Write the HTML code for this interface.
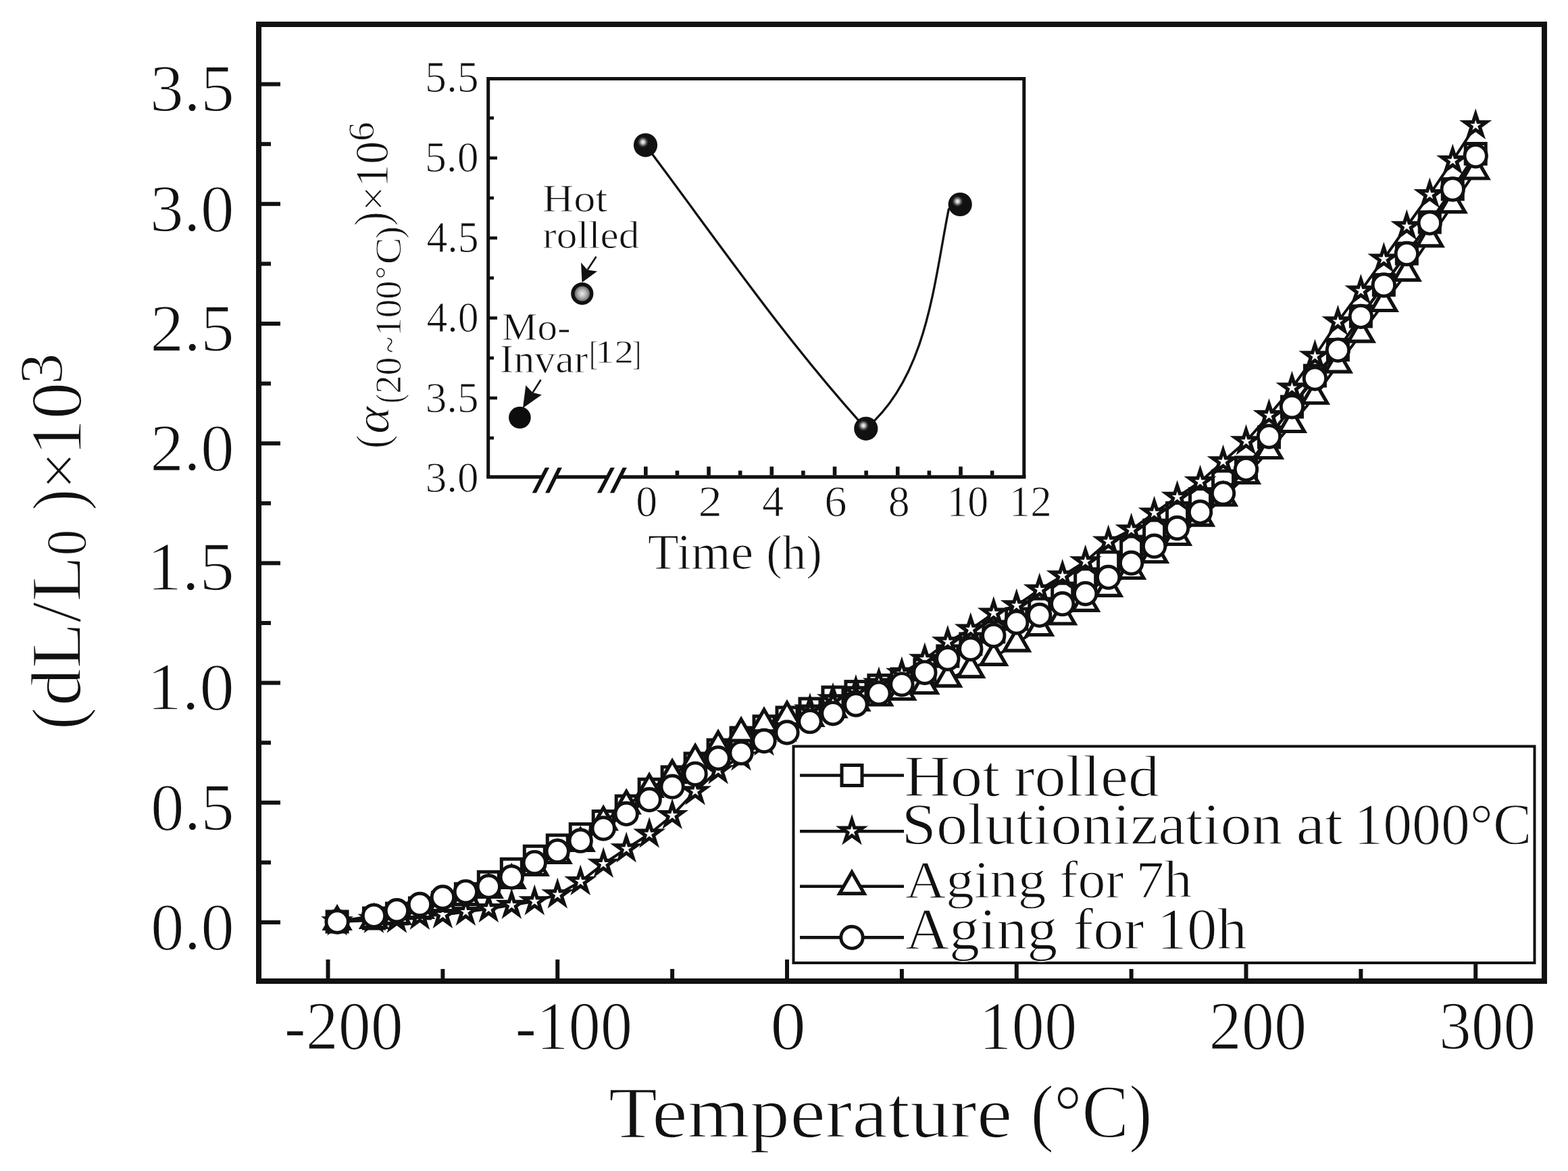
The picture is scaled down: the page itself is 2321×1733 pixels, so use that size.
<!DOCTYPE html>
<html><head><meta charset="utf-8"><title>Thermal expansion</title>
<style>html,body{margin:0;padding:0;background:#fff;overflow:hidden}svg{display:block}</style>
</head><body>
<svg xmlns="http://www.w3.org/2000/svg" width="2321" height="1733" viewBox="0 0 2321 1733" font-family='"Liberation Serif", "DejaVu Serif", serif' fill="#111">
<rect x="0" y="0" width="2321" height="1733" fill="#fff"/>
<polyline points="499.09,1364 553.45,1359 587.42,1352 621.4,1344 655.38,1336 689.35,1323 723.33,1305.3 757.3,1286.3 791.27,1267.3 825.25,1251 859.23,1234.5 893.2,1215.5 927.17,1193 961.15,1168.2 995.12,1150 1029.1,1130 1063.08,1110 1097.05,1092 1131.03,1075 1165,1062 1198.97,1049 1232.95,1032 1266.92,1023.6 1300.9,1014.3 1334.88,1005 1368.85,991 1402.83,971 1436.8,953 1470.78,935 1504.75,916 1538.72,901 1572.7,878.2 1606.67,857 1640.65,832 1674.62,809 1708.6,785 1742.58,759.4 1776.55,738.5 1810.53,712 1844.5,692 1878.47,647 1912.45,602 1946.42,556 1980.4,517.6 2014.38,468 2048.35,421.6 2082.32,375.2 2116.3,328.8 2150.28,279.8 2184.25,227.5" fill="none" stroke="#111" stroke-width="4.0" stroke-linejoin="round"/>
<g fill="#fff" stroke="#111" stroke-width="5.0" stroke-linejoin="miter">
<rect x="484.09" y="1349" width="30" height="30"/>
<rect x="538.45" y="1344" width="30" height="30"/>
<rect x="572.42" y="1337" width="30" height="30"/>
<rect x="606.4" y="1329" width="30" height="30"/>
<rect x="640.38" y="1321" width="30" height="30"/>
<rect x="674.35" y="1308" width="30" height="30"/>
<rect x="708.33" y="1290.3" width="30" height="30"/>
<rect x="742.3" y="1271.3" width="30" height="30"/>
<rect x="776.27" y="1252.3" width="30" height="30"/>
<rect x="810.25" y="1236" width="30" height="30"/>
<rect x="844.23" y="1219.5" width="30" height="30"/>
<rect x="878.2" y="1200.5" width="30" height="30"/>
<rect x="912.17" y="1178" width="30" height="30"/>
<rect x="946.15" y="1153.2" width="30" height="30"/>
<rect x="980.12" y="1135" width="30" height="30"/>
<rect x="1014.1" y="1115" width="30" height="30"/>
<rect x="1048.08" y="1095" width="30" height="30"/>
<rect x="1082.05" y="1077" width="30" height="30"/>
<rect x="1116.03" y="1060" width="30" height="30"/>
<rect x="1150" y="1047" width="30" height="30"/>
<rect x="1183.97" y="1034" width="30" height="30"/>
<rect x="1217.95" y="1017" width="30" height="30"/>
<rect x="1251.92" y="1008.6" width="30" height="30"/>
<rect x="1285.9" y="999.3" width="30" height="30"/>
<rect x="1319.88" y="990" width="30" height="30"/>
<rect x="1353.85" y="976" width="30" height="30"/>
<rect x="1387.83" y="956" width="30" height="30"/>
<rect x="1421.8" y="938" width="30" height="30"/>
<rect x="1455.78" y="920" width="30" height="30"/>
<rect x="1489.75" y="901" width="30" height="30"/>
<rect x="1523.72" y="886" width="30" height="30"/>
<rect x="1557.7" y="863.2" width="30" height="30"/>
<rect x="1591.67" y="842" width="30" height="30"/>
<rect x="1625.65" y="817" width="30" height="30"/>
<rect x="1659.62" y="794" width="30" height="30"/>
<rect x="1693.6" y="770" width="30" height="30"/>
<rect x="1727.58" y="744.4" width="30" height="30"/>
<rect x="1761.55" y="723.5" width="30" height="30"/>
<rect x="1795.53" y="697" width="30" height="30"/>
<rect x="1829.5" y="677" width="30" height="30"/>
<rect x="1863.47" y="632" width="30" height="30"/>
<rect x="1897.45" y="587" width="30" height="30"/>
<rect x="1931.42" y="541" width="30" height="30"/>
<rect x="1965.4" y="502.6" width="30" height="30"/>
<rect x="1999.38" y="453" width="30" height="30"/>
<rect x="2033.35" y="406.6" width="30" height="30"/>
<rect x="2067.32" y="360.2" width="30" height="30"/>
<rect x="2101.3" y="313.8" width="30" height="30"/>
<rect x="2135.28" y="264.8" width="30" height="30"/>
<rect x="2169.25" y="212.5" width="30" height="30"/>
</g>
<polyline points="499.09,1364 553.45,1360.5 587.42,1360.3 621.4,1355.5 655.38,1353.7 689.35,1349.6 723.33,1344.9 757.3,1339.5 791.27,1334 825.25,1324 859.23,1304.7 893.2,1278.6 927.17,1256 961.15,1234.3 995.12,1206.7 1029.1,1171 1063.08,1140 1097.05,1120 1131.03,1098 1165,1078 1198.97,1050.3 1232.95,1035 1266.92,1023 1300.9,1011.4 1334.88,996.5 1368.85,975.6 1402.83,950 1436.8,931.3 1470.78,907.4 1504.75,896 1538.72,872.6 1572.7,852.1 1606.67,831 1640.65,801.4 1674.62,784 1708.6,759 1742.58,735.6 1776.55,712.9 1810.53,683 1844.5,653 1878.47,614.8 1912.45,574 1946.42,527 1980.4,476.1 2014.38,430.4 2048.35,383.2 2082.32,335 2116.3,287.8 2150.28,237.9 2184.25,185.8" fill="none" stroke="#111" stroke-width="4.0" stroke-linejoin="round"/>
<g fill="#fff" stroke="#111" stroke-width="5.0" stroke-linejoin="miter">
<path d="M499.09 1347.2L502.86 1358.81L515.07 1358.81L505.19 1365.98L508.96 1377.59L499.09 1370.42L489.22 1377.59L492.99 1365.98L483.11 1358.81L495.32 1358.81Z" stroke-width="5.2"/>
<path d="M553.45 1343.7L557.22 1355.31L569.43 1355.31L559.55 1362.48L563.32 1374.09L553.45 1366.92L543.58 1374.09L547.35 1362.48L537.47 1355.31L549.68 1355.31Z" stroke-width="5.2"/>
<path d="M587.42 1343.5L591.2 1355.11L603.4 1355.11L593.53 1362.28L597.3 1373.89L587.42 1366.72L577.55 1373.89L581.32 1362.28L571.45 1355.11L583.65 1355.11Z" stroke-width="5.2"/>
<path d="M621.4 1338.7L625.17 1350.31L637.38 1350.31L627.5 1357.48L631.27 1369.09L621.4 1361.92L611.53 1369.09L615.3 1357.48L605.42 1350.31L617.63 1350.31Z" stroke-width="5.2"/>
<path d="M655.38 1336.9L659.15 1348.51L671.35 1348.51L661.48 1355.68L665.25 1367.29L655.38 1360.12L645.5 1367.29L649.27 1355.68L639.4 1348.51L651.6 1348.51Z" stroke-width="5.2"/>
<path d="M689.35 1332.8L693.12 1344.41L705.33 1344.41L695.45 1351.58L699.22 1363.19L689.35 1356.02L679.48 1363.19L683.25 1351.58L673.37 1344.41L685.58 1344.41Z" stroke-width="5.2"/>
<path d="M723.33 1328.1L727.1 1339.71L739.3 1339.71L729.43 1346.88L733.2 1358.49L723.33 1351.32L713.45 1358.49L717.22 1346.88L707.35 1339.71L719.55 1339.71Z" stroke-width="5.2"/>
<path d="M757.3 1322.7L761.07 1334.31L773.28 1334.31L763.4 1341.48L767.17 1353.09L757.3 1345.92L747.43 1353.09L751.2 1341.48L741.32 1334.31L753.53 1334.31Z" stroke-width="5.2"/>
<path d="M791.27 1317.2L795.05 1328.81L807.25 1328.81L797.38 1335.98L801.15 1347.59L791.27 1340.42L781.4 1347.59L785.17 1335.98L775.3 1328.81L787.5 1328.81Z" stroke-width="5.2"/>
<path d="M825.25 1307.2L829.02 1318.81L841.23 1318.81L831.35 1325.98L835.12 1337.59L825.25 1330.42L815.38 1337.59L819.15 1325.98L809.27 1318.81L821.48 1318.81Z" stroke-width="5.2"/>
<path d="M859.23 1287.9L863 1299.51L875.2 1299.51L865.33 1306.68L869.1 1318.29L859.23 1311.12L849.35 1318.29L853.12 1306.68L843.25 1299.51L855.45 1299.51Z" stroke-width="5.2"/>
<path d="M893.2 1261.8L896.97 1273.41L909.18 1273.41L899.3 1280.58L903.07 1292.19L893.2 1285.02L883.33 1292.19L887.1 1280.58L877.22 1273.41L889.43 1273.41Z" stroke-width="5.2"/>
<path d="M927.17 1239.2L930.95 1250.81L943.15 1250.81L933.28 1257.98L937.05 1269.59L927.17 1262.42L917.3 1269.59L921.07 1257.98L911.2 1250.81L923.4 1250.81Z" stroke-width="5.2"/>
<path d="M961.15 1217.5L964.92 1229.11L977.13 1229.11L967.25 1236.28L971.02 1247.89L961.15 1240.72L951.28 1247.89L955.05 1236.28L945.17 1229.11L957.38 1229.11Z" stroke-width="5.2"/>
<path d="M995.12 1189.9L998.9 1201.51L1011.1 1201.51L1001.23 1208.68L1005 1220.29L995.12 1213.12L985.25 1220.29L989.02 1208.68L979.15 1201.51L991.35 1201.51Z" stroke-width="5.2"/>
<path d="M1029.1 1154.2L1032.87 1165.81L1045.08 1165.81L1035.2 1172.98L1038.97 1184.59L1029.1 1177.42L1019.23 1184.59L1023 1172.98L1013.12 1165.81L1025.33 1165.81Z" stroke-width="5.2"/>
<path d="M1063.08 1123.2L1066.85 1134.81L1079.05 1134.81L1069.18 1141.98L1072.95 1153.59L1063.08 1146.42L1053.2 1153.59L1056.97 1141.98L1047.1 1134.81L1059.3 1134.81Z" stroke-width="5.2"/>
<path d="M1097.05 1103.2L1100.82 1114.81L1113.03 1114.81L1103.15 1121.98L1106.92 1133.59L1097.05 1126.42L1087.18 1133.59L1090.95 1121.98L1081.07 1114.81L1093.28 1114.81Z" stroke-width="5.2"/>
<path d="M1131.03 1081.2L1134.8 1092.81L1147 1092.81L1137.13 1099.98L1140.9 1111.59L1131.03 1104.42L1121.15 1111.59L1124.92 1099.98L1115.05 1092.81L1127.25 1092.81Z" stroke-width="5.2"/>
<path d="M1165 1061.2L1168.77 1072.81L1180.98 1072.81L1171.1 1079.98L1174.87 1091.59L1165 1084.42L1155.13 1091.59L1158.9 1079.98L1149.02 1072.81L1161.23 1072.81Z" stroke-width="5.2"/>
<path d="M1198.97 1033.5L1202.75 1045.11L1214.95 1045.11L1205.08 1052.28L1208.85 1063.89L1198.97 1056.72L1189.1 1063.89L1192.87 1052.28L1183 1045.11L1195.2 1045.11Z" stroke-width="5.2"/>
<path d="M1232.95 1018.2L1236.72 1029.81L1248.93 1029.81L1239.05 1036.98L1242.82 1048.59L1232.95 1041.42L1223.08 1048.59L1226.85 1036.98L1216.97 1029.81L1229.18 1029.81Z" stroke-width="5.2"/>
<path d="M1266.92 1006.2L1270.7 1017.81L1282.9 1017.81L1273.03 1024.98L1276.8 1036.59L1266.92 1029.42L1257.05 1036.59L1260.82 1024.98L1250.95 1017.81L1263.15 1017.81Z" stroke-width="5.2"/>
<path d="M1300.9 994.6L1304.67 1006.21L1316.88 1006.21L1307 1013.38L1310.77 1024.99L1300.9 1017.82L1291.03 1024.99L1294.8 1013.38L1284.92 1006.21L1297.13 1006.21Z" stroke-width="5.2"/>
<path d="M1334.88 979.7L1338.65 991.31L1350.85 991.31L1340.98 998.48L1344.75 1010.09L1334.88 1002.92L1325 1010.09L1328.77 998.48L1318.9 991.31L1331.1 991.31Z" stroke-width="5.2"/>
<path d="M1368.85 958.8L1372.62 970.41L1384.83 970.41L1374.95 977.58L1378.72 989.19L1368.85 982.02L1358.98 989.19L1362.75 977.58L1352.87 970.41L1365.08 970.41Z" stroke-width="5.2"/>
<path d="M1402.83 933.2L1406.6 944.81L1418.8 944.81L1408.93 951.98L1412.7 963.59L1402.83 956.42L1392.95 963.59L1396.72 951.98L1386.85 944.81L1399.05 944.81Z" stroke-width="5.2"/>
<path d="M1436.8 914.5L1440.57 926.11L1452.78 926.11L1442.9 933.28L1446.67 944.89L1436.8 937.72L1426.93 944.89L1430.7 933.28L1420.82 926.11L1433.03 926.11Z" stroke-width="5.2"/>
<path d="M1470.78 890.6L1474.55 902.21L1486.75 902.21L1476.88 909.38L1480.65 920.99L1470.78 913.82L1460.9 920.99L1464.67 909.38L1454.8 902.21L1467 902.21Z" stroke-width="5.2"/>
<path d="M1504.75 879.2L1508.52 890.81L1520.73 890.81L1510.85 897.98L1514.62 909.59L1504.75 902.42L1494.88 909.59L1498.65 897.98L1488.77 890.81L1500.98 890.81Z" stroke-width="5.2"/>
<path d="M1538.72 855.8L1542.5 867.41L1554.7 867.41L1544.83 874.58L1548.6 886.19L1538.72 879.02L1528.85 886.19L1532.62 874.58L1522.75 867.41L1534.95 867.41Z" stroke-width="5.2"/>
<path d="M1572.7 835.3L1576.47 846.91L1588.68 846.91L1578.8 854.08L1582.57 865.69L1572.7 858.52L1562.83 865.69L1566.6 854.08L1556.72 846.91L1568.93 846.91Z" stroke-width="5.2"/>
<path d="M1606.67 814.2L1610.45 825.81L1622.65 825.81L1612.78 832.98L1616.55 844.59L1606.67 837.42L1596.8 844.59L1600.57 832.98L1590.7 825.81L1602.9 825.81Z" stroke-width="5.2"/>
<path d="M1640.65 784.6L1644.42 796.21L1656.63 796.21L1646.75 803.38L1650.52 814.99L1640.65 807.82L1630.78 814.99L1634.55 803.38L1624.67 796.21L1636.88 796.21Z" stroke-width="5.2"/>
<path d="M1674.62 767.2L1678.4 778.81L1690.6 778.81L1680.73 785.98L1684.5 797.59L1674.62 790.42L1664.75 797.59L1668.52 785.98L1658.65 778.81L1670.85 778.81Z" stroke-width="5.2"/>
<path d="M1708.6 742.2L1712.37 753.81L1724.58 753.81L1714.7 760.98L1718.47 772.59L1708.6 765.42L1698.73 772.59L1702.5 760.98L1692.62 753.81L1704.83 753.81Z" stroke-width="5.2"/>
<path d="M1742.58 718.8L1746.35 730.41L1758.55 730.41L1748.68 737.58L1752.45 749.19L1742.58 742.02L1732.7 749.19L1736.47 737.58L1726.6 730.41L1738.8 730.41Z" stroke-width="5.2"/>
<path d="M1776.55 696.1L1780.32 707.71L1792.53 707.71L1782.65 714.88L1786.42 726.49L1776.55 719.32L1766.68 726.49L1770.45 714.88L1760.57 707.71L1772.78 707.71Z" stroke-width="5.2"/>
<path d="M1810.53 666.2L1814.3 677.81L1826.5 677.81L1816.63 684.98L1820.4 696.59L1810.53 689.42L1800.65 696.59L1804.42 684.98L1794.55 677.81L1806.75 677.81Z" stroke-width="5.2"/>
<path d="M1844.5 636.2L1848.27 647.81L1860.48 647.81L1850.6 654.98L1854.37 666.59L1844.5 659.42L1834.63 666.59L1838.4 654.98L1828.52 647.81L1840.73 647.81Z" stroke-width="5.2"/>
<path d="M1878.47 598L1882.25 609.61L1894.45 609.61L1884.58 616.78L1888.35 628.39L1878.47 621.22L1868.6 628.39L1872.37 616.78L1862.5 609.61L1874.7 609.61Z" stroke-width="5.2"/>
<path d="M1912.45 557.2L1916.22 568.81L1928.43 568.81L1918.55 575.98L1922.32 587.59L1912.45 580.42L1902.58 587.59L1906.35 575.98L1896.47 568.81L1908.68 568.81Z" stroke-width="5.2"/>
<path d="M1946.42 510.2L1950.2 521.81L1962.4 521.81L1952.53 528.98L1956.3 540.59L1946.42 533.42L1936.55 540.59L1940.32 528.98L1930.45 521.81L1942.65 521.81Z" stroke-width="5.2"/>
<path d="M1980.4 459.3L1984.17 470.91L1996.38 470.91L1986.5 478.08L1990.27 489.69L1980.4 482.52L1970.53 489.69L1974.3 478.08L1964.42 470.91L1976.63 470.91Z" stroke-width="5.2"/>
<path d="M2014.38 413.6L2018.15 425.21L2030.35 425.21L2020.48 432.38L2024.25 443.99L2014.38 436.82L2004.5 443.99L2008.27 432.38L1998.4 425.21L2010.6 425.21Z" stroke-width="5.2"/>
<path d="M2048.35 366.4L2052.12 378.01L2064.33 378.01L2054.45 385.18L2058.22 396.79L2048.35 389.62L2038.48 396.79L2042.25 385.18L2032.37 378.01L2044.58 378.01Z" stroke-width="5.2"/>
<path d="M2082.32 318.2L2086.1 329.81L2098.3 329.81L2088.43 336.98L2092.2 348.59L2082.32 341.42L2072.45 348.59L2076.22 336.98L2066.35 329.81L2078.55 329.81Z" stroke-width="5.2"/>
<path d="M2116.3 271L2120.07 282.61L2132.28 282.61L2122.4 289.78L2126.17 301.39L2116.3 294.22L2106.43 301.39L2110.2 289.78L2100.32 282.61L2112.53 282.61Z" stroke-width="5.2"/>
<path d="M2150.28 221.1L2154.05 232.71L2166.25 232.71L2156.38 239.88L2160.15 251.49L2150.28 244.32L2140.4 251.49L2144.17 239.88L2134.3 232.71L2146.5 232.71Z" stroke-width="5.2"/>
<path d="M2184.25 169L2188.02 180.61L2200.23 180.61L2190.35 187.78L2194.12 199.39L2184.25 192.22L2174.38 199.39L2178.15 187.78L2168.27 180.61L2180.48 180.61Z" stroke-width="5.2"/>
</g>
<polyline points="499.09,1364 553.45,1362 587.42,1356 621.4,1347 655.38,1337 689.35,1328 723.33,1317 757.3,1303 791.27,1284 825.25,1266 859.23,1248 893.2,1216.5 927.17,1192.4 961.15,1168 995.12,1147.2 1029.1,1124.6 1063.08,1104.5 1097.05,1085.5 1131.03,1071.3 1165,1061 1198.97,1063 1232.95,1050 1266.92,1040 1300.9,1032.5 1334.88,1024 1368.85,1015 1402.83,1004.6 1436.8,990.8 1470.78,972.9 1504.75,952.4 1538.72,929 1572.7,912.5 1606.67,892.8 1640.65,870.9 1674.62,845 1708.6,821 1742.58,795 1776.55,766.6 1810.53,736.7 1844.5,704 1878.47,667 1912.45,628 1946.42,586 1980.4,539.7 2014.38,494.7 2048.35,449 2082.32,403.8 2116.3,353.3 2150.28,303.2 2184.25,253.5" fill="none" stroke="#111" stroke-width="4.0" stroke-linejoin="round"/>
<g fill="#fff" stroke="#111" stroke-width="5.0" stroke-linejoin="miter">
<path stroke-width="5.2" d="M499.09 1342.98L517.29 1374.51L480.89 1374.51Z"/>
<path stroke-width="5.2" d="M553.45 1340.98L571.65 1372.51L535.25 1372.51Z"/>
<path stroke-width="5.2" d="M587.42 1334.98L605.62 1366.51L569.22 1366.51Z"/>
<path stroke-width="5.2" d="M621.4 1325.98L639.6 1357.51L603.2 1357.51Z"/>
<path stroke-width="5.2" d="M655.38 1315.98L673.58 1347.51L637.17 1347.51Z"/>
<path stroke-width="5.2" d="M689.35 1306.98L707.55 1338.51L671.15 1338.51Z"/>
<path stroke-width="5.2" d="M723.33 1295.98L741.53 1327.51L705.12 1327.51Z"/>
<path stroke-width="5.2" d="M757.3 1281.98L775.5 1313.51L739.1 1313.51Z"/>
<path stroke-width="5.2" d="M791.27 1262.98L809.48 1294.51L773.07 1294.51Z"/>
<path stroke-width="5.2" d="M825.25 1244.98L843.45 1276.51L807.05 1276.51Z"/>
<path stroke-width="5.2" d="M859.23 1226.98L877.43 1258.51L841.02 1258.51Z"/>
<path stroke-width="5.2" d="M893.2 1195.48L911.4 1227.01L875 1227.01Z"/>
<path stroke-width="5.2" d="M927.17 1171.38L945.38 1202.91L908.97 1202.91Z"/>
<path stroke-width="5.2" d="M961.15 1146.98L979.35 1178.51L942.95 1178.51Z"/>
<path stroke-width="5.2" d="M995.12 1126.18L1013.33 1157.71L976.92 1157.71Z"/>
<path stroke-width="5.2" d="M1029.1 1103.58L1047.3 1135.11L1010.9 1135.11Z"/>
<path stroke-width="5.2" d="M1063.08 1083.48L1081.28 1115.01L1044.88 1115.01Z"/>
<path stroke-width="5.2" d="M1097.05 1064.48L1115.25 1096.01L1078.85 1096.01Z"/>
<path stroke-width="5.2" d="M1131.03 1050.28L1149.23 1081.81L1112.83 1081.81Z"/>
<path stroke-width="5.2" d="M1165 1039.98L1183.2 1071.51L1146.8 1071.51Z"/>
<path stroke-width="5.2" d="M1198.97 1041.98L1217.17 1073.51L1180.77 1073.51Z"/>
<path stroke-width="5.2" d="M1232.95 1028.98L1251.15 1060.51L1214.75 1060.51Z"/>
<path stroke-width="5.2" d="M1266.92 1018.98L1285.12 1050.51L1248.72 1050.51Z"/>
<path stroke-width="5.2" d="M1300.9 1011.48L1319.1 1043.01L1282.7 1043.01Z"/>
<path stroke-width="5.2" d="M1334.88 1002.98L1353.08 1034.51L1316.67 1034.51Z"/>
<path stroke-width="5.2" d="M1368.85 993.98L1387.05 1025.51L1350.65 1025.51Z"/>
<path stroke-width="5.2" d="M1402.83 983.58L1421.03 1015.11L1384.62 1015.11Z"/>
<path stroke-width="5.2" d="M1436.8 969.78L1455 1001.31L1418.6 1001.31Z"/>
<path stroke-width="5.2" d="M1470.78 951.88L1488.98 983.41L1452.58 983.41Z"/>
<path stroke-width="5.2" d="M1504.75 931.38L1522.95 962.91L1486.55 962.91Z"/>
<path stroke-width="5.2" d="M1538.72 907.98L1556.92 939.51L1520.52 939.51Z"/>
<path stroke-width="5.2" d="M1572.7 891.48L1590.9 923.01L1554.5 923.01Z"/>
<path stroke-width="5.2" d="M1606.67 871.78L1624.88 903.31L1588.47 903.31Z"/>
<path stroke-width="5.2" d="M1640.65 849.88L1658.85 881.41L1622.45 881.41Z"/>
<path stroke-width="5.2" d="M1674.62 823.98L1692.83 855.51L1656.42 855.51Z"/>
<path stroke-width="5.2" d="M1708.6 799.98L1726.8 831.51L1690.4 831.51Z"/>
<path stroke-width="5.2" d="M1742.58 773.98L1760.78 805.51L1724.38 805.51Z"/>
<path stroke-width="5.2" d="M1776.55 745.58L1794.75 777.11L1758.35 777.11Z"/>
<path stroke-width="5.2" d="M1810.53 715.68L1828.73 747.21L1792.33 747.21Z"/>
<path stroke-width="5.2" d="M1844.5 682.98L1862.7 714.51L1826.3 714.51Z"/>
<path stroke-width="5.2" d="M1878.47 645.98L1896.67 677.51L1860.27 677.51Z"/>
<path stroke-width="5.2" d="M1912.45 606.98L1930.65 638.51L1894.25 638.51Z"/>
<path stroke-width="5.2" d="M1946.42 564.98L1964.62 596.51L1928.22 596.51Z"/>
<path stroke-width="5.2" d="M1980.4 518.68L1998.6 550.21L1962.2 550.21Z"/>
<path stroke-width="5.2" d="M2014.38 473.68L2032.58 505.21L1996.17 505.21Z"/>
<path stroke-width="5.2" d="M2048.35 427.98L2066.55 459.51L2030.15 459.51Z"/>
<path stroke-width="5.2" d="M2082.32 382.78L2100.52 414.31L2064.12 414.31Z"/>
<path stroke-width="5.2" d="M2116.3 332.28L2134.5 363.81L2098.1 363.81Z"/>
<path stroke-width="5.2" d="M2150.28 282.18L2168.47 313.71L2132.08 313.71Z"/>
<path stroke-width="5.2" d="M2184.25 232.48L2202.45 264.01L2166.05 264.01Z"/>
</g>
<polyline points="499.09,1364 553.45,1355.3 587.42,1347.7 621.4,1338.5 655.38,1328 689.35,1319.8 723.33,1312 757.3,1298 791.27,1276.6 825.25,1259.6 859.23,1244.2 893.2,1226 927.17,1204.4 961.15,1183.5 995.12,1164.2 1029.1,1145.3 1063.08,1122 1097.05,1114.2 1131.03,1096.5 1165,1084 1198.97,1067.7 1232.95,1055.8 1266.92,1042.8 1300.9,1026.1 1334.88,1012.8 1368.85,995.3 1402.83,974.8 1436.8,960.3 1470.78,940.5 1504.75,921.1 1538.72,910.4 1572.7,893.7 1606.67,878.6 1640.65,854.4 1674.62,833.2 1708.6,808.2 1742.58,781.5 1776.55,757.9 1810.53,730.1 1844.5,694.4 1878.47,646 1912.45,601.8 1946.42,560 1980.4,518.1 2014.38,468.4 2048.35,422 2082.32,375.5 2116.3,329.9 2150.28,280 2184.25,230.8" fill="none" stroke="#111" stroke-width="4.0" stroke-linejoin="round"/>
<g fill="#fff" stroke="#111" stroke-width="5.0" stroke-linejoin="miter">
<circle cx="499.09" cy="1364" r="16.2" stroke-width="4.9"/>
<circle cx="553.45" cy="1355.3" r="16.2" stroke-width="4.9"/>
<circle cx="587.42" cy="1347.7" r="16.2" stroke-width="4.9"/>
<circle cx="621.4" cy="1338.5" r="16.2" stroke-width="4.9"/>
<circle cx="655.38" cy="1328" r="16.2" stroke-width="4.9"/>
<circle cx="689.35" cy="1319.8" r="16.2" stroke-width="4.9"/>
<circle cx="723.33" cy="1312" r="16.2" stroke-width="4.9"/>
<circle cx="757.3" cy="1298" r="16.2" stroke-width="4.9"/>
<circle cx="791.27" cy="1276.6" r="16.2" stroke-width="4.9"/>
<circle cx="825.25" cy="1259.6" r="16.2" stroke-width="4.9"/>
<circle cx="859.23" cy="1244.2" r="16.2" stroke-width="4.9"/>
<circle cx="893.2" cy="1226" r="16.2" stroke-width="4.9"/>
<circle cx="927.17" cy="1204.4" r="16.2" stroke-width="4.9"/>
<circle cx="961.15" cy="1183.5" r="16.2" stroke-width="4.9"/>
<circle cx="995.12" cy="1164.2" r="16.2" stroke-width="4.9"/>
<circle cx="1029.1" cy="1145.3" r="16.2" stroke-width="4.9"/>
<circle cx="1063.08" cy="1122" r="16.2" stroke-width="4.9"/>
<circle cx="1097.05" cy="1114.2" r="16.2" stroke-width="4.9"/>
<circle cx="1131.03" cy="1096.5" r="16.2" stroke-width="4.9"/>
<circle cx="1165" cy="1084" r="16.2" stroke-width="4.9"/>
<circle cx="1198.97" cy="1067.7" r="16.2" stroke-width="4.9"/>
<circle cx="1232.95" cy="1055.8" r="16.2" stroke-width="4.9"/>
<circle cx="1266.92" cy="1042.8" r="16.2" stroke-width="4.9"/>
<circle cx="1300.9" cy="1026.1" r="16.2" stroke-width="4.9"/>
<circle cx="1334.88" cy="1012.8" r="16.2" stroke-width="4.9"/>
<circle cx="1368.85" cy="995.3" r="16.2" stroke-width="4.9"/>
<circle cx="1402.83" cy="974.8" r="16.2" stroke-width="4.9"/>
<circle cx="1436.8" cy="960.3" r="16.2" stroke-width="4.9"/>
<circle cx="1470.78" cy="940.5" r="16.2" stroke-width="4.9"/>
<circle cx="1504.75" cy="921.1" r="16.2" stroke-width="4.9"/>
<circle cx="1538.72" cy="910.4" r="16.2" stroke-width="4.9"/>
<circle cx="1572.7" cy="893.7" r="16.2" stroke-width="4.9"/>
<circle cx="1606.67" cy="878.6" r="16.2" stroke-width="4.9"/>
<circle cx="1640.65" cy="854.4" r="16.2" stroke-width="4.9"/>
<circle cx="1674.62" cy="833.2" r="16.2" stroke-width="4.9"/>
<circle cx="1708.6" cy="808.2" r="16.2" stroke-width="4.9"/>
<circle cx="1742.58" cy="781.5" r="16.2" stroke-width="4.9"/>
<circle cx="1776.55" cy="757.9" r="16.2" stroke-width="4.9"/>
<circle cx="1810.53" cy="730.1" r="16.2" stroke-width="4.9"/>
<circle cx="1844.5" cy="694.4" r="16.2" stroke-width="4.9"/>
<circle cx="1878.47" cy="646" r="16.2" stroke-width="4.9"/>
<circle cx="1912.45" cy="601.8" r="16.2" stroke-width="4.9"/>
<circle cx="1946.42" cy="560" r="16.2" stroke-width="4.9"/>
<circle cx="1980.4" cy="518.1" r="16.2" stroke-width="4.9"/>
<circle cx="2014.38" cy="468.4" r="16.2" stroke-width="4.9"/>
<circle cx="2048.35" cy="422" r="16.2" stroke-width="4.9"/>
<circle cx="2082.32" cy="375.5" r="16.2" stroke-width="4.9"/>
<circle cx="2116.3" cy="329.9" r="16.2" stroke-width="4.9"/>
<circle cx="2150.28" cy="280" r="16.2" stroke-width="4.9"/>
<circle cx="2184.25" cy="230.8" r="16.2" stroke-width="4.9"/>
</g>
<rect x="383" y="36" width="1903" height="1416" fill="none" stroke="#111" stroke-width="8"/>
<line x1="387" x2="415" y1="1365" y2="1365" stroke="#111" stroke-width="6"/>
<line x1="387" x2="401" y1="1276.4" y2="1276.4" stroke="#111" stroke-width="6"/>
<line x1="387" x2="415" y1="1187.8" y2="1187.8" stroke="#111" stroke-width="6"/>
<line x1="387" x2="401" y1="1099.2" y2="1099.2" stroke="#111" stroke-width="6"/>
<line x1="387" x2="415" y1="1010.6" y2="1010.6" stroke="#111" stroke-width="6"/>
<line x1="387" x2="401" y1="922" y2="922" stroke="#111" stroke-width="6"/>
<line x1="387" x2="415" y1="833.4" y2="833.4" stroke="#111" stroke-width="6"/>
<line x1="387" x2="401" y1="744.8" y2="744.8" stroke="#111" stroke-width="6"/>
<line x1="387" x2="415" y1="656.2" y2="656.2" stroke="#111" stroke-width="6"/>
<line x1="387" x2="401" y1="567.6" y2="567.6" stroke="#111" stroke-width="6"/>
<line x1="387" x2="415" y1="479" y2="479" stroke="#111" stroke-width="6"/>
<line x1="387" x2="401" y1="390.4" y2="390.4" stroke="#111" stroke-width="6"/>
<line x1="387" x2="415" y1="301.8" y2="301.8" stroke="#111" stroke-width="6"/>
<line x1="387" x2="401" y1="213.2" y2="213.2" stroke="#111" stroke-width="6"/>
<line x1="387" x2="415" y1="124.6" y2="124.6" stroke="#111" stroke-width="6"/>
<line x1="485.5" x2="485.5" y1="1448" y2="1420" stroke="#111" stroke-width="6"/>
<line x1="655.38" x2="655.38" y1="1448" y2="1434" stroke="#111" stroke-width="6"/>
<line x1="825.25" x2="825.25" y1="1448" y2="1420" stroke="#111" stroke-width="6"/>
<line x1="995.12" x2="995.12" y1="1448" y2="1434" stroke="#111" stroke-width="6"/>
<line x1="1165" x2="1165" y1="1448" y2="1420" stroke="#111" stroke-width="6"/>
<line x1="1334.88" x2="1334.88" y1="1448" y2="1434" stroke="#111" stroke-width="6"/>
<line x1="1504.75" x2="1504.75" y1="1448" y2="1420" stroke="#111" stroke-width="6"/>
<line x1="1674.62" x2="1674.62" y1="1448" y2="1434" stroke="#111" stroke-width="6"/>
<line x1="1844.5" x2="1844.5" y1="1448" y2="1420" stroke="#111" stroke-width="6"/>
<line x1="2014.38" x2="2014.38" y1="1448" y2="1434" stroke="#111" stroke-width="6"/>
<line x1="2184.25" x2="2184.25" y1="1448" y2="1420" stroke="#111" stroke-width="6"/>
<text transform="translate(222.89 1404.7) scale(0.9906 1)" font-size="100" stroke="#fff" stroke-width="1.60">0.0</text>
<text transform="translate(222.88 1227.5) scale(0.9928 1)" font-size="100" stroke="#fff" stroke-width="1.60">0.5</text>
<text transform="translate(217.55 1050.3) scale(1.0347 1)" font-size="100" stroke="#fff" stroke-width="1.60">1.0</text>
<text transform="translate(217.53 873.09) scale(1.0293 1)" font-size="100.74" stroke="#fff" stroke-width="1.61">1.5</text>
<text transform="translate(222.37 695.9) scale(0.9949 1)" font-size="100" stroke="#fff" stroke-width="1.60">2.0</text>
<text transform="translate(222.36 518.69) scale(0.9933 1)" font-size="100.37" stroke="#fff" stroke-width="1.61">2.5</text>
<text transform="translate(221.85 341.5) scale(0.9991 1)" font-size="100" stroke="#fff" stroke-width="1.60">3.0</text>
<text transform="translate(221.84 164.29) scale(0.9976 1)" font-size="100.37" stroke="#fff" stroke-width="1.61">3.5</text>
<text transform="translate(420.8 1553.49) scale(0.9506 1)" font-size="101.04" stroke="#fff" stroke-width="1.62">-200</text>
<text transform="translate(762.55 1553.49) scale(0.9376 1)" font-size="101.04" stroke="#fff" stroke-width="1.62">-100</text>
<text transform="translate(1140.25 1553.49) scale(1.0433 1)" font-size="101.04" stroke="#fff" stroke-width="1.62">0</text>
<text transform="translate(1449.02 1553.49) scale(0.9588 1)" font-size="101.04" stroke="#fff" stroke-width="1.62">100</text>
<text transform="translate(1789.39 1553.49) scale(0.9563 1)" font-size="101.04" stroke="#fff" stroke-width="1.62">200</text>
<text transform="translate(2129.96 1553.49) scale(0.9464 1)" font-size="101.04" stroke="#fff" stroke-width="1.62">300</text>
<text transform="translate(900.72 1683.2) scale(1.0960 1)" font-size="108.24" stroke="#fff" stroke-width="1.73">Temperature</text>
<text transform="translate(1525.38 1683.38) scale(0.9286 1)" font-size="111.97" stroke="#fff" stroke-width="1.79">(°C)</text>
<text transform="rotate(-90) translate(-1079.68 120.19) scale(0.9317 1)" font-size="105.45" stroke="#fff" stroke-width="1.69">(</text>
<text transform="rotate(-90) translate(-1044.68 119.03) scale(1.0416 1)" font-size="106.52" stroke="#fff" stroke-width="1.70">dL/L</text>
<text transform="rotate(-90) translate(-822.29 126.75) scale(0.9091 1)" font-size="84.89" stroke="#fff" stroke-width="1.36">0</text>
<text transform="rotate(-90) translate(-755.49 120.97) scale(0.8976 1)" font-size="106.01" stroke="#fff" stroke-width="1.70">)</text>
<text transform="rotate(-90) translate(-725.08 118.49) scale(1.0773 1)" font-size="93.74" stroke="#fff" stroke-width="1.50">×</text>
<text transform="rotate(-90) translate(-674.73 119.71) scale(1.0002 1)" font-size="108.89" stroke="#fff" stroke-width="1.74">10</text>
<text transform="rotate(-90) translate(-568.9 91.68) scale(1.0094 1)" font-size="91.75" stroke="#fff" stroke-width="1.47">3</text>
<rect x="1174.5" y="1104.5" width="1097" height="320.5" fill="#fff" stroke="#111" stroke-width="4"/>
<line x1="1184" x2="1338" y1="1147.5" y2="1147.5" stroke="#111" stroke-width="4.6"/>
<g fill="#fff" stroke="#111" stroke-width="5.0">
<rect x="1246" y="1132.5" width="30" height="30"/>
</g>
<line x1="1184" x2="1338" y1="1230.2" y2="1230.2" stroke="#111" stroke-width="4.6"/>
<g fill="#fff" stroke="#111" stroke-width="5.0">
<path d="M1261 1213.4L1264.77 1225.01L1276.98 1225.01L1267.1 1232.18L1270.87 1243.79L1261 1236.62L1251.13 1243.79L1254.9 1232.18L1245.02 1225.01L1257.23 1225.01Z" stroke-width="5.2"/>
</g>
<line x1="1184" x2="1338" y1="1311.8" y2="1311.8" stroke="#111" stroke-width="4.6"/>
<g fill="#fff" stroke="#111" stroke-width="5.0">
<path stroke-width="5.2" d="M1261 1290.78L1279.2 1322.31L1242.8 1322.31Z"/>
</g>
<line x1="1184" x2="1338" y1="1387.4" y2="1387.4" stroke="#111" stroke-width="4.6"/>
<g fill="#fff" stroke="#111" stroke-width="5.0">
<circle cx="1261" cy="1387.4" r="16.2" stroke-width="4.9"/>
</g>
<text transform="translate(1338.19 1177.8) scale(1.0900 1)" font-size="87.02" stroke="#fff" stroke-width="1.39">Hot</text>
<text transform="translate(1500.75 1177.8) scale(1.0612 1)" font-size="87.02" stroke="#fff" stroke-width="1.39">rolled</text>
<text transform="translate(1334.57 1248.9) scale(1.0611 1)" font-size="87.02" stroke="#fff" stroke-width="1.39">Solutionization</text>
<text transform="translate(1918.44 1248.9) scale(1.1045 1)" font-size="87.02" stroke="#fff" stroke-width="1.39">at</text>
<text transform="translate(2004.29 1248.9) scale(0.9857 1)" font-size="87.02" stroke="#fff" stroke-width="1.39">1000°C</text>
<text transform="translate(1339.97 1327.7) scale(1.0520 1)" font-size="79.24" stroke="#fff" stroke-width="1.27">Aging</text>
<text transform="translate(1568.25 1327.7) scale(1.0320 1)" font-size="79.24" stroke="#fff" stroke-width="1.27">for</text>
<text transform="translate(1681.4 1327.7) scale(1.0493 1)" font-size="79.24" stroke="#fff" stroke-width="1.27">7h</text>
<text transform="translate(1339.9 1403.9) scale(1.0490 1)" font-size="85.95" stroke="#fff" stroke-width="1.38">Aging</text>
<text transform="translate(1588.29 1403.9) scale(1.0504 1)" font-size="85.95" stroke="#fff" stroke-width="1.38">for</text>
<text transform="translate(1712.62 1403.9) scale(1.0346 1)" font-size="85.95" stroke="#fff" stroke-width="1.38">10h</text>
<defs><radialGradient id="hl" cx="0.5" cy="0.5" r="0.5"><stop offset="0" stop-color="#fbfbfb"/><stop offset="0.3" stop-color="#c4c4c4"/><stop offset="0.65" stop-color="#555" stop-opacity="0.8"/><stop offset="1" stop-color="#111" stop-opacity="0"/></radialGradient><radialGradient id="sphg" cx="0.5" cy="0.5" r="0.5"><stop offset="0" stop-color="#ececec"/><stop offset="0.45" stop-color="#b0b0b0"/><stop offset="0.8" stop-color="#6a6a6a"/><stop offset="1" stop-color="#333"/></radialGradient></defs>
<path d="M722.7 706 V116.4 H1515.8 V706" fill="none" stroke="#111" stroke-width="5"/>
<path d="M720.2 705.9 H803 M822 705.9 H899.5 M918.5 705.9 H1518.4" fill="none" stroke="#111" stroke-width="5.4"/>
<path d="M787.7 729.5 L793.9 729.5 L813.1 692 L806.9 692 Z" fill="#111"/>
<path d="M807.1 729.5 L813.3 729.5 L831.9 692 L825.7 692 Z" fill="#111"/>
<path d="M883.9 729.5 L890.1 729.5 L909.9 692 L903.7 692 Z" fill="#111"/>
<path d="M902.9 729.5 L909.1 729.5 L927.9 692 L921.7 692 Z" fill="#111"/>
<line x1="725" x2="731" y1="648.2" y2="648.2" stroke="#111" stroke-width="4.6"/>
<line x1="725" x2="736" y1="589" y2="589" stroke="#111" stroke-width="4.6"/>
<line x1="725" x2="731" y1="529.8" y2="529.8" stroke="#111" stroke-width="4.6"/>
<line x1="725" x2="736" y1="470.6" y2="470.6" stroke="#111" stroke-width="4.6"/>
<line x1="725" x2="731" y1="411.4" y2="411.4" stroke="#111" stroke-width="4.6"/>
<line x1="725" x2="736" y1="352.2" y2="352.2" stroke="#111" stroke-width="4.6"/>
<line x1="725" x2="731" y1="293" y2="293" stroke="#111" stroke-width="4.6"/>
<line x1="725" x2="736" y1="233.8" y2="233.8" stroke="#111" stroke-width="4.6"/>
<line x1="725" x2="731" y1="174.6" y2="174.6" stroke="#111" stroke-width="4.6"/>
<line x1="955.8" x2="955.8" y1="703.5" y2="690.5" stroke="#111" stroke-width="5.6"/>
<line x1="1002.42" x2="1002.42" y1="703.5" y2="696.5" stroke="#111" stroke-width="5.6"/>
<line x1="1049.04" x2="1049.04" y1="703.5" y2="690.5" stroke="#111" stroke-width="5.6"/>
<line x1="1095.66" x2="1095.66" y1="703.5" y2="696.5" stroke="#111" stroke-width="5.6"/>
<line x1="1142.28" x2="1142.28" y1="703.5" y2="690.5" stroke="#111" stroke-width="5.6"/>
<line x1="1188.9" x2="1188.9" y1="703.5" y2="696.5" stroke="#111" stroke-width="5.6"/>
<line x1="1235.52" x2="1235.52" y1="703.5" y2="690.5" stroke="#111" stroke-width="5.6"/>
<line x1="1282.14" x2="1282.14" y1="703.5" y2="696.5" stroke="#111" stroke-width="5.6"/>
<line x1="1328.76" x2="1328.76" y1="703.5" y2="690.5" stroke="#111" stroke-width="5.6"/>
<line x1="1375.38" x2="1375.38" y1="703.5" y2="696.5" stroke="#111" stroke-width="5.6"/>
<line x1="1422" x2="1422" y1="703.5" y2="690.5" stroke="#111" stroke-width="5.6"/>
<line x1="1468.62" x2="1468.62" y1="703.5" y2="696.5" stroke="#111" stroke-width="5.6"/>
<text transform="translate(629.7 728.04) scale(0.9885 1)" font-size="63.82" stroke="#fff" stroke-width="1.02">3.0</text>
<text transform="translate(629.7 609.64) scale(0.9870 1)" font-size="64.06" stroke="#fff" stroke-width="1.02">3.5</text>
<text transform="translate(631.47 491.24) scale(0.9657 1)" font-size="63.82" stroke="#fff" stroke-width="1.02">4.0</text>
<text transform="translate(631.46 372.83) scale(0.9571 1)" font-size="64.54" stroke="#fff" stroke-width="1.03">4.5</text>
<text transform="translate(629.04 254.44) scale(0.9971 1)" font-size="63.82" stroke="#fff" stroke-width="1.02">5.0</text>
<text transform="translate(629.03 136.03) scale(0.9845 1)" font-size="64.78" stroke="#fff" stroke-width="1.04">5.5</text>
<text transform="translate(941.21 764.34) scale(0.9629 1)" font-size="66.22" stroke="#fff" stroke-width="1.06">0</text>
<text transform="translate(1033.39 764.34) scale(1.0692 1)" font-size="66.22" stroke="#fff" stroke-width="1.06">2</text>
<text transform="translate(1128.01 764.34) scale(0.9710 1)" font-size="66.22" stroke="#fff" stroke-width="1.06">4</text>
<text transform="translate(1220.37 764.34) scale(1.0067 1)" font-size="66.22" stroke="#fff" stroke-width="1.06">6</text>
<text transform="translate(1314.71 764.34) scale(0.9629 1)" font-size="66.22" stroke="#fff" stroke-width="1.06">8</text>
<text transform="translate(1401.39 764.34) scale(0.9337 1)" font-size="66.22" stroke="#fff" stroke-width="1.06">10</text>
<text transform="translate(1493.78 764.34) scale(0.9527 1)" font-size="66.22" stroke="#fff" stroke-width="1.06">12</text>
<text transform="translate(958.78 842) scale(1.0129 1)" font-size="74.35" stroke="#fff" stroke-width="1.19">Time</text>
<text transform="translate(1134.19 842) scale(0.9742 1)" font-size="72.81" stroke="#fff" stroke-width="1.16">(h)</text>
<path d="M955.4 214.4 C1061.5 356.1 1162.6 503.2 1281.8 634.3 C1372.4 557.3 1382.1 420.2 1404.3 309.6 L1412 304" fill="none" stroke="#111" stroke-width="3.3" stroke-linejoin="round"/>
<circle cx="955.5" cy="214.8" r="17.6" fill="#111"/>
<circle cx="951.7" cy="210.3" r="9" fill="url(#hl)"/>
<circle cx="1281.8" cy="634.3" r="17.6" fill="#111"/>
<circle cx="1278" cy="629.8" r="9" fill="url(#hl)"/>
<circle cx="1421.2" cy="302.5" r="17.6" fill="#111"/>
<circle cx="1417.4" cy="298" r="9" fill="url(#hl)"/>
<circle cx="861.8" cy="434.6" r="13.9" fill="url(#sphg)" stroke="#111" stroke-width="5.4"/>
<circle cx="769.4" cy="618" r="16.3" fill="#0d0d0d"/>
<line x1="882.5" y1="379.8" x2="869.5" y2="399.5" stroke="#111" stroke-width="2.6"/>
<path d="M861.5 418L860 388.5L869.5 399.5L884 401.5Z" fill="#111"/>
<line x1="800.6" y1="562" x2="788.5" y2="581.1" stroke="#111" stroke-width="2.6"/>
<path d="M773.9 604L778.3 570.3L788.5 581.1L801.8 584.3Z" fill="#111"/>
<text transform="translate(802.83 312.6) scale(1.1308 1)" font-size="56.95" stroke="#fff" stroke-width="0.91">Hot</text>
<text transform="translate(803.37 366.63) scale(1.0840 1)" font-size="56.6" stroke="#fff" stroke-width="0.91">rolled</text>
<text transform="translate(742.98 502.9) scale(1.0497 1)" font-size="56.18" stroke="#fff" stroke-width="0.90">Mo-</text>
<text transform="translate(739.83 551.3) scale(1.0607 1)" font-size="58.32" stroke="#fff" stroke-width="0.93">Invar</text>
<text transform="translate(872.13 540.47) scale(0.7443 1)" font-size="51.33" stroke="#fff" stroke-width="0.82">[</text>
<text transform="translate(881 536.6) scale(1.1684 1)" font-size="48.91" stroke="#fff" stroke-width="0.78">12</text>
<text transform="translate(936.16 540.47) scale(0.7447 1)" font-size="51.33" stroke="#fff" stroke-width="0.82">]</text>
<text transform="rotate(-90) translate(-663.73 574.01) scale(0.8655 1)" font-size="68.65" stroke="#fff" stroke-width="1.10">(</text>
<text transform="rotate(-90) translate(-642.24 574.57) scale(1.0733 1)" font-size="72.54" stroke="#fff" stroke-width="1.16" font-style="italic">α</text>
<text transform="rotate(-90) translate(-596.75 593.93) scale(0.7624 1)" font-size="53.99" stroke="#fff" stroke-width="0.86">(</text>
<text transform="rotate(-90) translate(-582.61 593.45) scale(0.9949 1)" font-size="54.52" stroke="#fff" stroke-width="0.87">20</text>
<text transform="rotate(-90) translate(-522.65 592.89) scale(0.9308 1)" font-size="48.96" stroke="#fff" stroke-width="0.78">~</text>
<text transform="rotate(-90) translate(-497.59 593.45) scale(1.0045 1)" font-size="54.52" stroke="#fff" stroke-width="0.87">100</text>
<text transform="rotate(-90) translate(-413.29 586) scale(1.1129 1)" font-size="43.31" stroke="#fff" stroke-width="0.69">°</text>
<text transform="rotate(-90) translate(-391.3 593.44) scale(1.0747 1)" font-size="55.91" stroke="#fff" stroke-width="0.89">C</text>
<text transform="rotate(-90) translate(-353.62 594.34) scale(1.0191 1)" font-size="54.88" stroke="#fff" stroke-width="0.88">)</text>
<text transform="rotate(-90) translate(-334.34 573.78) scale(0.8784 1)" font-size="71.63" stroke="#fff" stroke-width="1.15">)</text>
<text transform="rotate(-90) translate(-312.83 572.68) scale(1.0999 1)" font-size="60.61" stroke="#fff" stroke-width="0.97">×</text>
<text transform="rotate(-90) translate(-277.29 573.89) scale(0.9687 1)" font-size="70.67" stroke="#fff" stroke-width="1.13">10</text>
<text transform="rotate(-90) translate(-209.26 552.74) scale(1.0389 1)" font-size="55.61" stroke="#fff" stroke-width="0.89">6</text>
</svg>
</body></html>
